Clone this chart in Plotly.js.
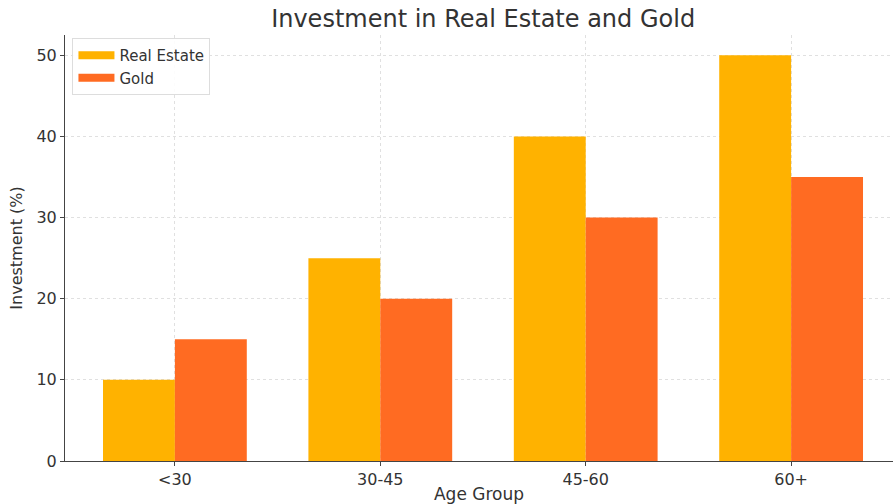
<!DOCTYPE html>
<html>
<head>
<meta charset="utf-8">
<script src="https://cdn.plot.ly/plotly-3.0.1.min.js"></script>
<style>html,body{margin:0;padding:0;background:#fff;}#chart{width:893px;height:504px;}</style>
</head>
<body>
<div id="chart"></div>
<script>
const categories = ["<30", "30-45", "45-60", "60+"];
const realEstate = [10, 25, 40, 50];
const gold = [15, 20, 30, 35];
const yTicks = [0, 10, 20, 30, 40, 50];
const seriesNames = ["Real Estate", "Gold"];
const seriesColors = ["#FFB200", "#FF6B22"];

const font = "DejaVu Sans, sans-serif";
const xPos = categories.map((c, i) => i);
const data = [
  {type: "bar", name: seriesNames[0], x: xPos, y: realEstate, marker: {color: seriesColors[0]}, showlegend: false},
  {type: "bar", name: seriesNames[1], x: xPos, y: gold, marker: {color: seriesColors[1]}, showlegend: false},
  {type: "scatter", mode: "lines", name: seriesNames[0], x: [null], y: [null], line: {color: seriesColors[0], width: 8}, hoverinfo: "skip"},
  {type: "scatter", mode: "lines", name: seriesNames[1], x: [null], y: [null], line: {color: seriesColors[1], width: 8}, hoverinfo: "skip"}
];
const layout = {
  width: 893, height: 504,
  margin: {l: 65, r: 0, t: 35, b: 43},
  paper_bgcolor: "#fff", plot_bgcolor: "#fff",
  barmode: "group", bargap: 0.3, bargroupgap: 0,
  font: {family: font, color: "#333", size: 14},
  title: {text: "Investment in Real Estate and Gold", font: {size: 24, color: "#333"}, xref: "paper", x: 0.505, xanchor: "center", y: 0.964, yanchor: "middle"},
  xaxis: {
    range: [-0.535, 3.496], tickvals: xPos, ticktext: categories,
    showline: true, linecolor: "#444", linewidth: 1,
    ticks: "outside", ticklen: 4, tickcolor: "#444",
    showgrid: true, gridcolor: "#e0e0e0", griddash: "dot", zeroline: false,
    tickfont: {size: 16, color: "#333"},
    title: {text: "Age Group", font: {size: 17, color: "#333"}, standoff: 1}
  },
  yaxis: {
    range: [0, 52.5], tickvals: yTicks,
    showline: true, linecolor: "#444", linewidth: 1,
    ticks: "outside", ticklen: 4, tickcolor: "#444",
    showgrid: true, gridcolor: "#e0e0e0", griddash: "dot", zeroline: false,
    tickfont: {size: 16, color: "#333"},
    title: {text: "Investment (%)", font: {size: 16, color: "#333"}, standoff: 9}
  },
  legend: {
    x: 0.009, y: 0.993, xanchor: "left", yanchor: "top",
    bgcolor: "rgba(255,255,255,0.9)", bordercolor: "#ddd", borderwidth: 1,
    font: {size: 15, color: "#333"}, traceorder: "normal", itemwidth: 36
  },
  showlegend: true
};
Plotly.newPlot("chart", data, layout, {displayModeBar: false, staticPlot: true});
</script>
</body>
</html>
